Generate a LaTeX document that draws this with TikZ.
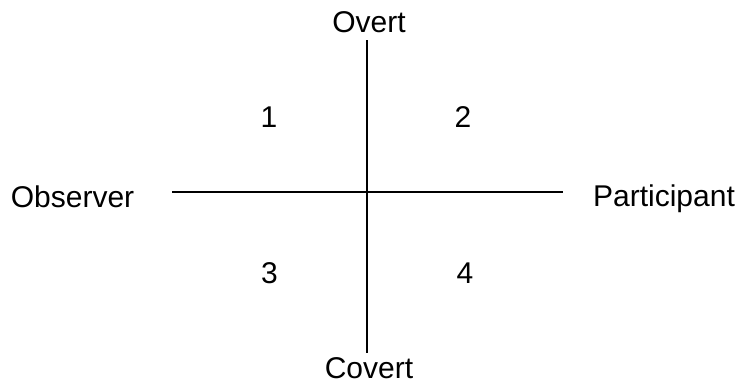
\documentclass[tikz,border=0pt]{standalone}
\usepackage{fontspec}
\setmainfont{Liberation Sans}
\usepackage{tikz}

\begin{document}
\begin{tikzpicture}[x=1pt, y=-1pt, every node/.style={font=\fontsize{30}{35}\selectfont, inner sep=0pt}]
    \useasboundingbox (0, 0) rectangle (740, 384);

    % Axis ends
    \coordinate (top) at (367, 40);
    \coordinate (bottom) at (367, 353);
    \coordinate (left) at (172, 192);
    \coordinate (right) at (563, 192);

    % The axes
    \draw[line width=2pt] (top) -- (bottom);
    \draw[line width=2pt] (left) -- (right);

    % Axis labels
    \node[anchor=base] (overt) at (369, 32) {Overt};
    \node[anchor=base] (covert) at (369, 378) {Covert};
    \node[anchor=base] (observer) at (72.5, 207) {Observer};
    \node[anchor=base] (participant) at (664, 206) {Participant};

    % Quadrants
    \node[anchor=base] (q1) at (269, 127) {1};
    \node[anchor=base] (q2) at (463, 127) {2};
    \node[anchor=base] (q3) at (269.5, 283) {3};
    \node[anchor=base] (q4) at (465, 283) {4};
\end{tikzpicture}
\end{document}
